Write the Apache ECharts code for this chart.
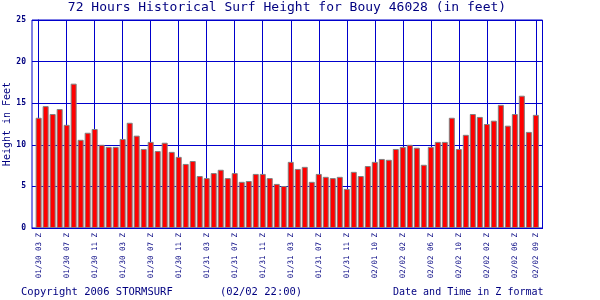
<!DOCTYPE html>
<html>
<head>
<meta charset="utf-8">
<script src="https://cdn.jsdelivr.net/npm/echarts@6/dist/echarts.min.js"></script>
<style>html,body{margin:0;padding:0;background:#fff;}#c{width:600px;height:300px;}</style>
</head>
<body>
<div id="c"></div>
<script>
// Surf height (feet), one bar per hour, 72 hours
const surfHeight = [13.25,14.65,13.7,14.3,12.4,17.35,10.6,11.45,11.9,10.0,
  9.75,9.75,10.7,12.65,11.1,9.5,10.35,9.25,10.25,9.15,
  8.55,7.7,8.05,6.25,6.0,6.6,7.0,6.0,6.6,5.55,
  5.65,6.5,6.5,6.0,5.3,5.05,7.95,7.1,7.35,5.55,
  6.5,6.15,6.0,6.15,4.7,6.75,6.25,7.45,7.95,8.3,
  8.2,9.5,9.75,10.0,9.65,7.6,9.75,10.35,10.35,13.25,
  9.5,11.2,13.7,13.35,12.5,12.9,14.8,12.3,13.7,15.9,11.55,13.6];
// Tick positions (bar index) and their labels
const tickIndex = [0,4,8,12,16,20,24,28,32,36,40,44,48,52,56,60,64,68,71];
const tickLabels = ["01/30 03 Z","01/30 07 Z","01/30 11 Z","01/30 03 Z","01/30 07 Z","01/30 11 Z",
  "01/31 03 Z","01/31 07 Z","01/31 11 Z","01/31 03 Z","01/31 07 Z","01/31 11 Z",
  "02/01 10 Z","02/02 02 Z","02/02 06 Z","02/02 10 Z","02/02 02 Z","02/02 06 Z","02/02 09 Z"];
const yTicks = [0,5,10,15,20,25];

const blue = '#0000CC';
const navy = '#000080';
const mono = 'DejaVu Sans Mono';

const chart = echarts.init(document.getElementById('c'), null, {renderer:'canvas'});
chart.setOption({
  animation: false,
  backgroundColor: '#ffffff',
  title: [
    {text: '72 Hours Historical Surf Height for Bouy 46028 (in feet)', left: 287, textAlign: 'center', top: 1, padding: 0,
     textStyle: {fontFamily: mono, fontSize: 13, fontWeight: 'normal', color: navy}},
    {text: 'Copyright 2006 STORMSURF', left: 21, top: 287, padding: 0,
     textStyle: {fontFamily: mono, fontSize: 10.5, fontWeight: 'normal', color: navy}},
    {text: '(02/02 22:00)', left: 220, top: 287, padding: 0,
     textStyle: {fontFamily: mono, fontSize: 10.5, fontWeight: 'normal', color: navy}},
    {text: 'Date and Time in Z format', left: 393, top: 287, padding: 0,
     textStyle: {fontFamily: mono, fontSize: 10, fontWeight: 'normal', color: navy}}
  ],
  grid: {left: 32, right: 57.5, top: 20, bottom: 72, containLabel: false, outerBoundsMode: 'none',
         show: true, borderColor: blue, borderWidth: 1, backgroundColor: 'transparent'},
  xAxis: {
    type: 'value', min: -0.95, max: 71.95,
    axisLine: {show: true, lineStyle: {color: blue, width: 1}},
    axisTick: {show: false},
    splitLine: {show: false},
    axisLabel: {
      customValues: tickIndex, rotate: 90, margin: 5,
      fontFamily: mono, fontSize: 7.5, color: navy,
      formatter: function (v) { const k = tickIndex.indexOf(Math.round(v)); return k >= 0 ? tickLabels[k] : ''; }
    }
  },
  yAxis: {
    type: 'value', min: yTicks[0], max: yTicks[yTicks.length-1], interval: 5,
    name: 'Height in Feet', nameLocation: 'middle', nameRotate: 90, nameGap: 20, nameMoveOverlap: false,
    nameTextStyle: {fontFamily: mono, fontSize: 10, color: navy},
    axisLine: {show: true, lineStyle: {color: blue, width: 1}},
    axisTick: {show: false},
    splitLine: {show: true, lineStyle: {color: blue, width: 1}},
    axisLabel: {fontFamily: mono, fontSize: 8, fontWeight: 'bold', color: navy, margin: 6}
  },
  series: [{
    type: 'bar',
    data: surfHeight.map((v, i) => [i, v]),
    barWidth: 6,
    itemStyle: {color: '#FF0000', borderColor: '#808080', borderWidth: 1},
    markLine: {
      silent: true, z: 1, symbol: ['none', 'none'], animation: false,
      label: {show: false},
      lineStyle: {color: blue, width: 1, type: 'solid'},
      emphasis: {disabled: true},
      data: tickIndex.map(t => ({xAxis: t}))
    }
  }]
});
</script>
</body>
</html>
